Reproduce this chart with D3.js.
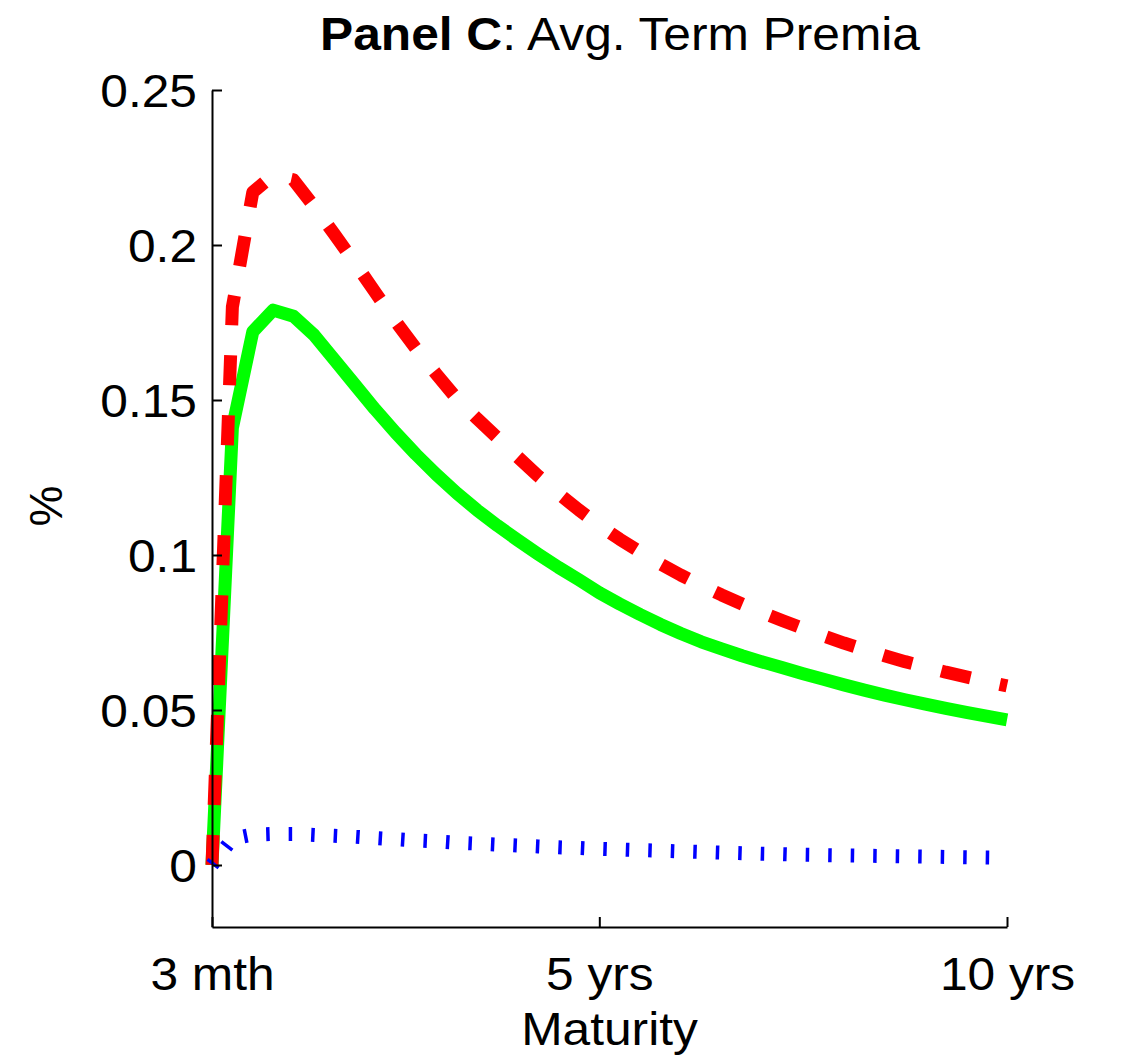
<!DOCTYPE html>
<html>
<head>
<meta charset="utf-8">
<script src="https://cdn.jsdelivr.net/npm/d3@7"></script>
<style>
  body { margin: 0; background: #fff; }
  text { font-family: "Liberation Sans", Arial, Helvetica, sans-serif; fill: #000; }
</style>
</head>
<body>
<svg id="chart" width="1124" height="1063"></svg>
<script>
// ---- data (maturity in quarters, 1 = 3 months ... 40 = 10 years) ----
const quarters = [1,2,3,4,5,6,7,8,9,10,11,12,13,14,15,16,17,18,19,20,
                  21,22,23,24,25,26,27,28,29,30,31,32,33,34,35,36,37,38,39,40];

const greenSeries = [0.000,0.141,0.172,0.179,0.177,0.171,0.163,0.155,0.147,0.1395,
                     0.1325,0.126,0.120,0.1145,0.1095,0.1048,0.1003,0.096,0.092,0.0878,
                     0.0842,0.0808,0.0776,0.0747,0.0720,0.0697,0.0675,0.0655,0.0636,0.0617,
                     0.0599,0.0581,0.0564,0.0548,0.0533,0.0519,0.0505,0.0492,0.0480,0.0468];

const redSeries = [0.000,0.180,0.217,0.2225,0.221,0.2125,0.2035,0.1943,0.1848,0.1754,
                   0.1666,0.1584,0.1505,0.1440,0.1378,0.1316,0.1255,0.1198,0.1145,0.1096,
                   0.1051,0.1010,0.0971,0.0935,0.0902,0.0871,0.0842,0.0814,0.0788,0.0763,
                   0.0739,0.0716,0.0695,0.0675,0.0656,0.0639,0.0622,0.0607,0.0592,0.0578];

const blueSeries = [0.000,0.0085,0.0098,0.0100,0.0100,0.0097,0.0094,0.0091,0.0087,0.0083,
                    0.0079,0.0076,0.0072,0.0069,0.0066,0.0063,0.0060,0.0057,0.0055,0.0052,
                    0.0050,0.0048,0.0046,0.0044,0.0042,0.0040,0.0038,0.0036,0.0035,0.0033,
                    0.0032,0.0031,0.0030,0.0029,0.0028,0.0027,0.0026,0.0025,0.0024,0.0023];

const xTickValues = [1, 20, 40];
const xTickLabels = ["3 mth", "5 yrs", "10 yrs"];
const yTickValues = [0, 0.05, 0.1, 0.15, 0.2, 0.25];
const yTickLabels = ["0", "0.05", "0.1", "0.15", "0.2", "0.25"];

const titleBold = "Panel C";
const titleRest = ": Avg. Term Premia";
const xLabel = "Maturity";
const yLabel = "%";

// ---- layout ----
const svg = d3.select("#chart");
const plotLeft = 212, plotRight = 1007, plotTop = 90, plotBottom = 927;
const FS = 46, STRETCH = 1.08;

const x = d3.scaleLinear().domain([1, 40]).range([plotLeft, plotRight]);
const y = d3.scaleLinear().domain([-0.02, 0.25]).range([plotBottom, plotTop]);

// ---- lines ----
const line = d3.line().x((d, i) => x(quarters[i])).y(d => y(d));

svg.append("path").datum(greenSeries)
  .attr("d", line).attr("fill", "none")
  .attr("stroke", "#00ff00").attr("stroke-width", 13)
  .attr("stroke-linejoin", "round").attr("stroke-linecap", "butt");

svg.append("path").datum(redSeries)
  .attr("d", line).attr("fill", "none")
  .attr("stroke", "#ff0000").attr("stroke-width", 13)
  .attr("stroke-dasharray", "30,30")
  .attr("stroke-linejoin", "round").attr("stroke-linecap", "butt");

svg.append("path").datum(blueSeries)
  .attr("d", line).attr("fill", "none")
  .attr("stroke", "#0000ff").attr("stroke-width", 14)
  .attr("stroke-dasharray", "3.5,19")
  .attr("stroke-linejoin", "round").attr("stroke-linecap", "butt");

// ---- axes ----
const yAxis = d3.axisLeft(y)
  .tickValues(yTickValues)
  .tickFormat((d, i) => yTickLabels[i])
  .tickSizeInner(-10).tickSizeOuter(0).tickPadding(15);

const gy = svg.append("g").attr("transform", `translate(${plotLeft},0)`).call(yAxis);

const xAxis = d3.axisBottom(x)
  .tickValues(xTickValues)
  .tickFormat((d, i) => xTickLabels[i])
  .tickSizeInner(-10).tickSizeOuter(0).tickPadding(30);

const gx = svg.append("g").attr("transform", `translate(0,${plotBottom})`).call(xAxis);

[gy, gx].forEach(g => {
  g.select(".domain").attr("stroke", "#000").attr("stroke-width", 2);
  g.selectAll(".tick line").attr("stroke", "#000").attr("stroke-width", 2);
  g.selectAll(".tick text")
    .style("font-family", '"Liberation Sans", Arial, Helvetica, sans-serif')
    .attr("font-size", FS).attr("fill", "#000");
});

// stretch tick labels horizontally like the reference
gy.selectAll(".tick text").each(function() {
  const t = d3.select(this);
  const tx = +t.attr("x");
  t.attr("x", 0).attr("dy", "0.36em")
   .attr("transform", `translate(${tx},0) scale(${STRETCH},1)`);
});
gx.selectAll(".tick text").each(function() {
  const t = d3.select(this);
  const ty = +t.attr("y");
  t.attr("y", 0).attr("transform", `translate(0,${ty}) scale(${STRETCH},1)`);
});

// ---- titles ----
const title = svg.append("text")
  .attr("transform", `translate(620,50) scale(${STRETCH},1)`)
  .attr("text-anchor", "middle").attr("font-size", FS);
title.append("tspan").attr("font-weight", "bold").text(titleBold);
title.append("tspan").text(titleRest);

svg.append("text")
  .attr("transform", `translate(${(plotLeft + plotRight) / 2},1045) scale(${STRETCH},1)`)
  .attr("text-anchor", "middle").attr("font-size", FS).text(xLabel);

svg.append("text")
  .attr("transform", `translate(62,506) rotate(-90)`)
  .attr("text-anchor", "middle").attr("font-size", FS).text(yLabel);
</script>
</body>
</html>
